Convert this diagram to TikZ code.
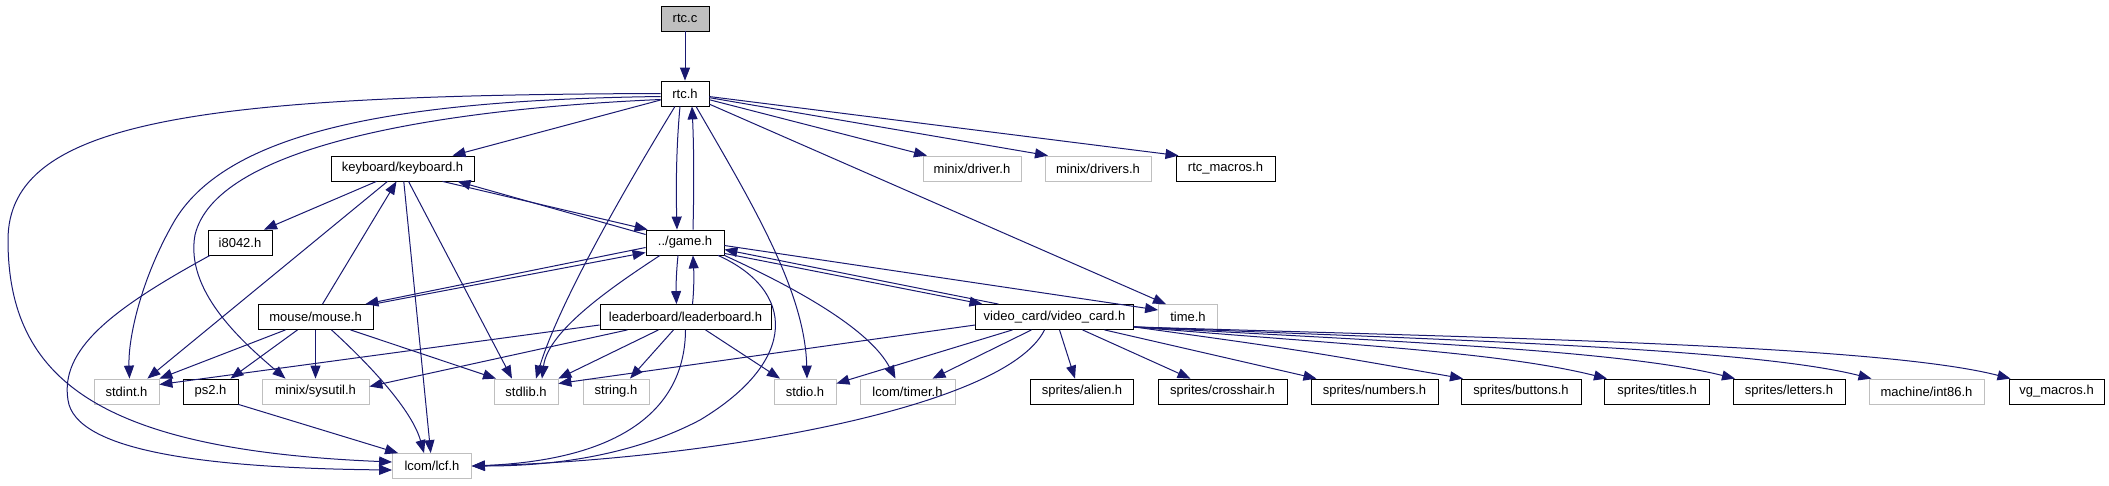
\documentclass[tikz,border=0pt]{standalone}
\usepackage{fontspec}
\setmainfont{Liberation Sans}
\usepackage{tikz}
\usetikzlibrary{arrows.meta,positioning}
\definecolor{edgeblue}{HTML}{191970}
\definecolor{grey75}{HTML}{BFBFBF}

\begin{document}
\begin{tikzpicture}[
    x=1pt, y=-1pt,
    box/.style={rectangle, draw=black, line width=0.8pt, fill=white, minimum height=25pt, inner sep=0pt, font=\fontsize{13}{15}\selectfont},
    extbox/.style={box, draw=grey75},
    arrow/.style={-{Triangle[length=13pt,width=10pt]}, draw=edgeblue, line width=1pt}
]
    \useasboundingbox (0,0) rectangle (2109,485);

    \node[box, fill=grey75, minimum width=48pt] (rtcc) at (685,18.5) {rtc.c};
    \node[box, minimum width=48pt] (rtch) at (685,93.5) {rtc.h};
    \node[box, minimum width=143pt] (kbd) at (402.5,168.5) {keyboard/keyboard.h};
    \node[extbox, minimum width=98pt] (driver) at (972,168.5) {minix/driver.h};
    \node[extbox, minimum width=106pt] (drivers) at (1098,168.5) {minix/drivers.h};
    \node[box, minimum width=99pt] (rtcmacros) at (1225.5,168.5) {rtc\_macros.h};
    \node[box, minimum width=64pt] (i8042) at (240,242.5) {i8042.h};
    \node[box, minimum width=78pt] (game) at (685,242.5) {../game.h};
    \node[box, minimum width=115pt] (mouse) at (315.5,317) {mouse/mouse.h};
    \node[box, minimum width=171pt] (lboard) at (685.5,317) {leaderboard/leaderboard.h};
    \node[box, minimum width=158pt] (vcard) at (1054.5,317) {video\_card/video\_card.h};
    \node[extbox, minimum width=59pt] (time) at (1188,317) {time.h};
    \node[extbox, minimum width=65pt] (stdint) at (126.5,391.5) {stdint.h};
    \node[box, minimum width=55pt] (ps2) at (210.5,391.5) {ps2.h};
    \node[extbox, minimum width=107pt] (sysutil) at (315.5,391.5) {minix/sysutil.h};
    \node[extbox, minimum width=64pt] (stdlib) at (526,391.5) {stdlib.h};
    \node[extbox, minimum width=66pt] (string) at (616,391.5) {string.h};
    \node[extbox, minimum width=62pt] (stdio) at (805,391.5) {stdio.h};
    \node[extbox, minimum width=95pt] (timer) at (907.5,391.5) {lcom/timer.h};
    \node[box, minimum width=103pt] (alien) at (1082,391.5) {sprites/alien.h};
    \node[box, minimum width=129pt] (cross) at (1222.5,391.5) {sprites/crosshair.h};
    \node[box, minimum width=127pt] (numbers) at (1374.5,391.5) {sprites/numbers.h};
    \node[box, minimum width=120pt] (buttons) at (1521,391.5) {sprites/buttons.h};
    \node[box, minimum width=105pt] (titles) at (1657,391.5) {sprites/titles.h};
    \node[box, minimum width=112pt] (letters) at (1789,391.5) {sprites/letters.h};
    \node[extbox, minimum width=115pt] (int86) at (1926.5,391.5) {machine/int86.h};
    \node[box, minimum width=95pt] (vgm) at (2056.5,391.5) {vg\_macros.h};
    \node[extbox, minimum width=79pt] (lcf) at (432,466) {lcom/lcf.h};

    % rtc.h
    \draw[arrow] (rtcc) -- (rtch);
    \draw[arrow] (rtch) -- ([xshift=50pt]kbd.north);
    \draw[arrow] (rtch) -- ([xshift=-45pt]driver.north);
    \draw[arrow] (rtch) -- ([xshift=-50pt]drivers.north);
    \draw[arrow] (rtch) -- ([xshift=-47pt]rtcmacros.north);
    \draw[arrow] ([xshift=-5pt]rtch.south) .. controls (676,150) and (676,190) .. ([xshift=-8pt]game.north);
    \draw[arrow] ([xshift=8pt]game.north) .. controls (694,190) and (694,150) .. ([xshift=7pt]rtch.south);
    \draw[arrow] (rtch.west) .. controls (200,95) and (8,120) .. (8,240) .. controls (8,380) and (100,450) .. ([yshift=4pt]lcf.west);
    \draw[arrow] ([yshift=-3pt]rtch.west) .. controls (400,100) and (230,130) .. (175,220) .. controls (140,280) and (128,340) .. ([xshift=3pt]stdint.north);
    \draw[arrow] ([yshift=-6pt]rtch.west) .. controls (420,110) and (215,150) .. (195,235) .. controls (185,290) and (240,340) .. ([xshift=-30pt]sysutil.north);
    \draw[arrow] ([xshift=-10pt]rtch.south) .. controls (630,180) and (560,300) .. ([xshift=10pt]stdlib.north);
    \draw[arrow] ([xshift=11pt]rtch.south) .. controls (750,200) and (805,290) .. ([xshift=2pt]stdio.north);
    \draw[arrow] (rtch) -- ([xshift=-22pt]time.north);

    % keyboard, i8042
    \draw[arrow] ([xshift=-26pt]kbd.south) -- ([xshift=24pt]i8042.north);
    \draw[arrow] ([xshift=40pt]kbd.south) -- ([xshift=2pt]game.north west);
    \draw[arrow] ([yshift=8pt]game.west) -- ([xshift=55pt]kbd.south);
    \draw[arrow] ([xshift=-15pt]kbd.south) -- ([xshift=-12pt]stdint.north east);
    \draw[arrow] (kbd) -- (lcf);
    \draw[arrow] ([xshift=6pt]kbd.south) -- ([xshift=-14pt]stdlib.north);
    \draw[arrow] ([xshift=-30pt]i8042.south) .. controls (110,310) and (60,350) .. (68,400) .. controls (75,450) and (200,468) .. ([yshift=-4pt]lcf.west);

    % game
    \draw[arrow] ([xshift=7pt]mouse.north) -- ([xshift=-6pt]kbd.south);
    \draw[arrow] ([yshift=-5pt]game.west) -- ([xshift=-8pt]mouse.north east);
    \draw[arrow] (mouse.north east) -- ([yshift=-10pt]game.west);
    \draw[arrow] ([xshift=-7pt]game.south) .. controls (676,275) and (676,290) .. ([xshift=-9pt]lboard.north);
    \draw[arrow] ([xshift=7pt]lboard.north) .. controls (694,290) and (694,275) .. ([xshift=8pt]game.south);
    \draw[arrow] ([yshift=2pt]game.south east) -- ([xshift=-72pt]vcard.north);
    \draw[arrow] ([xshift=-56pt]vcard.north) -- ([yshift=-7pt]game.east);
    \draw[arrow] ([yshift=-3pt]game.east) -- ([yshift=7pt]time.west);
    \draw[arrow] ([xshift=-25pt]game.south) .. controls (615,285) and (548,330) .. ([xshift=16pt]stdlib.north);
    \draw[arrow] ([xshift=33pt]game.south) .. controls (795,290) and (800,360) .. (700,420) .. controls (620,462) and (530,466) .. (lcf.east);
    \draw[arrow] (game.south east) .. controls (800,290) and (870,330) .. ([xshift=-12pt]timer.north);

    % mouse, ps2
    \draw[arrow] ([xshift=-30pt]mouse.south) -- (stdint.north east);
    \draw[arrow] ([xshift=-18pt]mouse.south) -- ([xshift=20pt]ps2.north);
    \draw[arrow] (mouse) -- (sysutil);
    \draw[arrow] ([xshift=16pt]mouse.south) .. controls (370,365) and (412,410) .. ([xshift=-8pt]lcf.north);
    \draw[arrow] ([xshift=35pt]mouse.south) -- ([xshift=-30pt]stdlib.north);
    \draw[arrow] (ps2.south east) -- ([xshift=6pt]lcf.north west);

    % leaderboard
    \draw[arrow] ([yshift=-8pt]lboard.west) -- ([yshift=7pt]stdint.east);
    \draw[arrow] ([xshift=-58pt]lboard.south) -- ([yshift=5pt]sysutil.east);
    \draw[arrow] ([xshift=-27pt]lboard.south) -- (stdlib.north east);
    \draw[arrow] ([xshift=-12pt]lboard.south) -- ([xshift=14pt]string.north);
    \draw[arrow] ([xshift=20pt]lboard.south) -- ([xshift=-25pt]stdio.north);
    \draw[arrow] (lboard.south) .. controls (685,410) and (620,460) .. (lcf.east);

    % video_card
    \draw[arrow] ([yshift=-8pt]vcard.west) -- ([yshift=8pt]stdlib.east);
    \draw[arrow] ([xshift=-42pt]vcard.south) -- ([yshift=8pt]stdio.east);
    \draw[arrow] ([xshift=-23pt]vcard.south) -- ([xshift=25pt]timer.north);
    \draw[arrow] ([xshift=-10pt]vcard.south) .. controls (1005,410) and (700,460) .. (lcf.east);
    \draw[arrow] ([xshift=5pt]vcard.south) -- ([xshift=-7pt]alien.north);
    \draw[arrow] ([xshift=28pt]vcard.south) -- ([xshift=-32pt]cross.north);
    \draw[arrow] ([xshift=50pt]vcard.south) -- ([xshift=-58pt]numbers.north);
    \draw[arrow] ([yshift=3pt]vcard.south east) .. controls (1300,350) .. ([xshift=-58pt]buttons.north);
    \draw[arrow] ([yshift=3pt]vcard.south east) .. controls (1350,345) and (1500,352) .. ([xshift=-50pt]titles.north);
    \draw[arrow] ([yshift=3pt]vcard.south east) .. controls (1400,342) and (1620,350) .. ([xshift=-54pt]letters.north);
    \draw[arrow] ([yshift=3pt]vcard.south east) .. controls (1450,340) and (1750,348) .. ([xshift=-55pt]int86.north);
    \draw[arrow] ([yshift=3pt]vcard.south east) .. controls (1500,338) and (1880,345) .. ([xshift=-46pt]vgm.north);
\end{tikzpicture}
\end{document}
